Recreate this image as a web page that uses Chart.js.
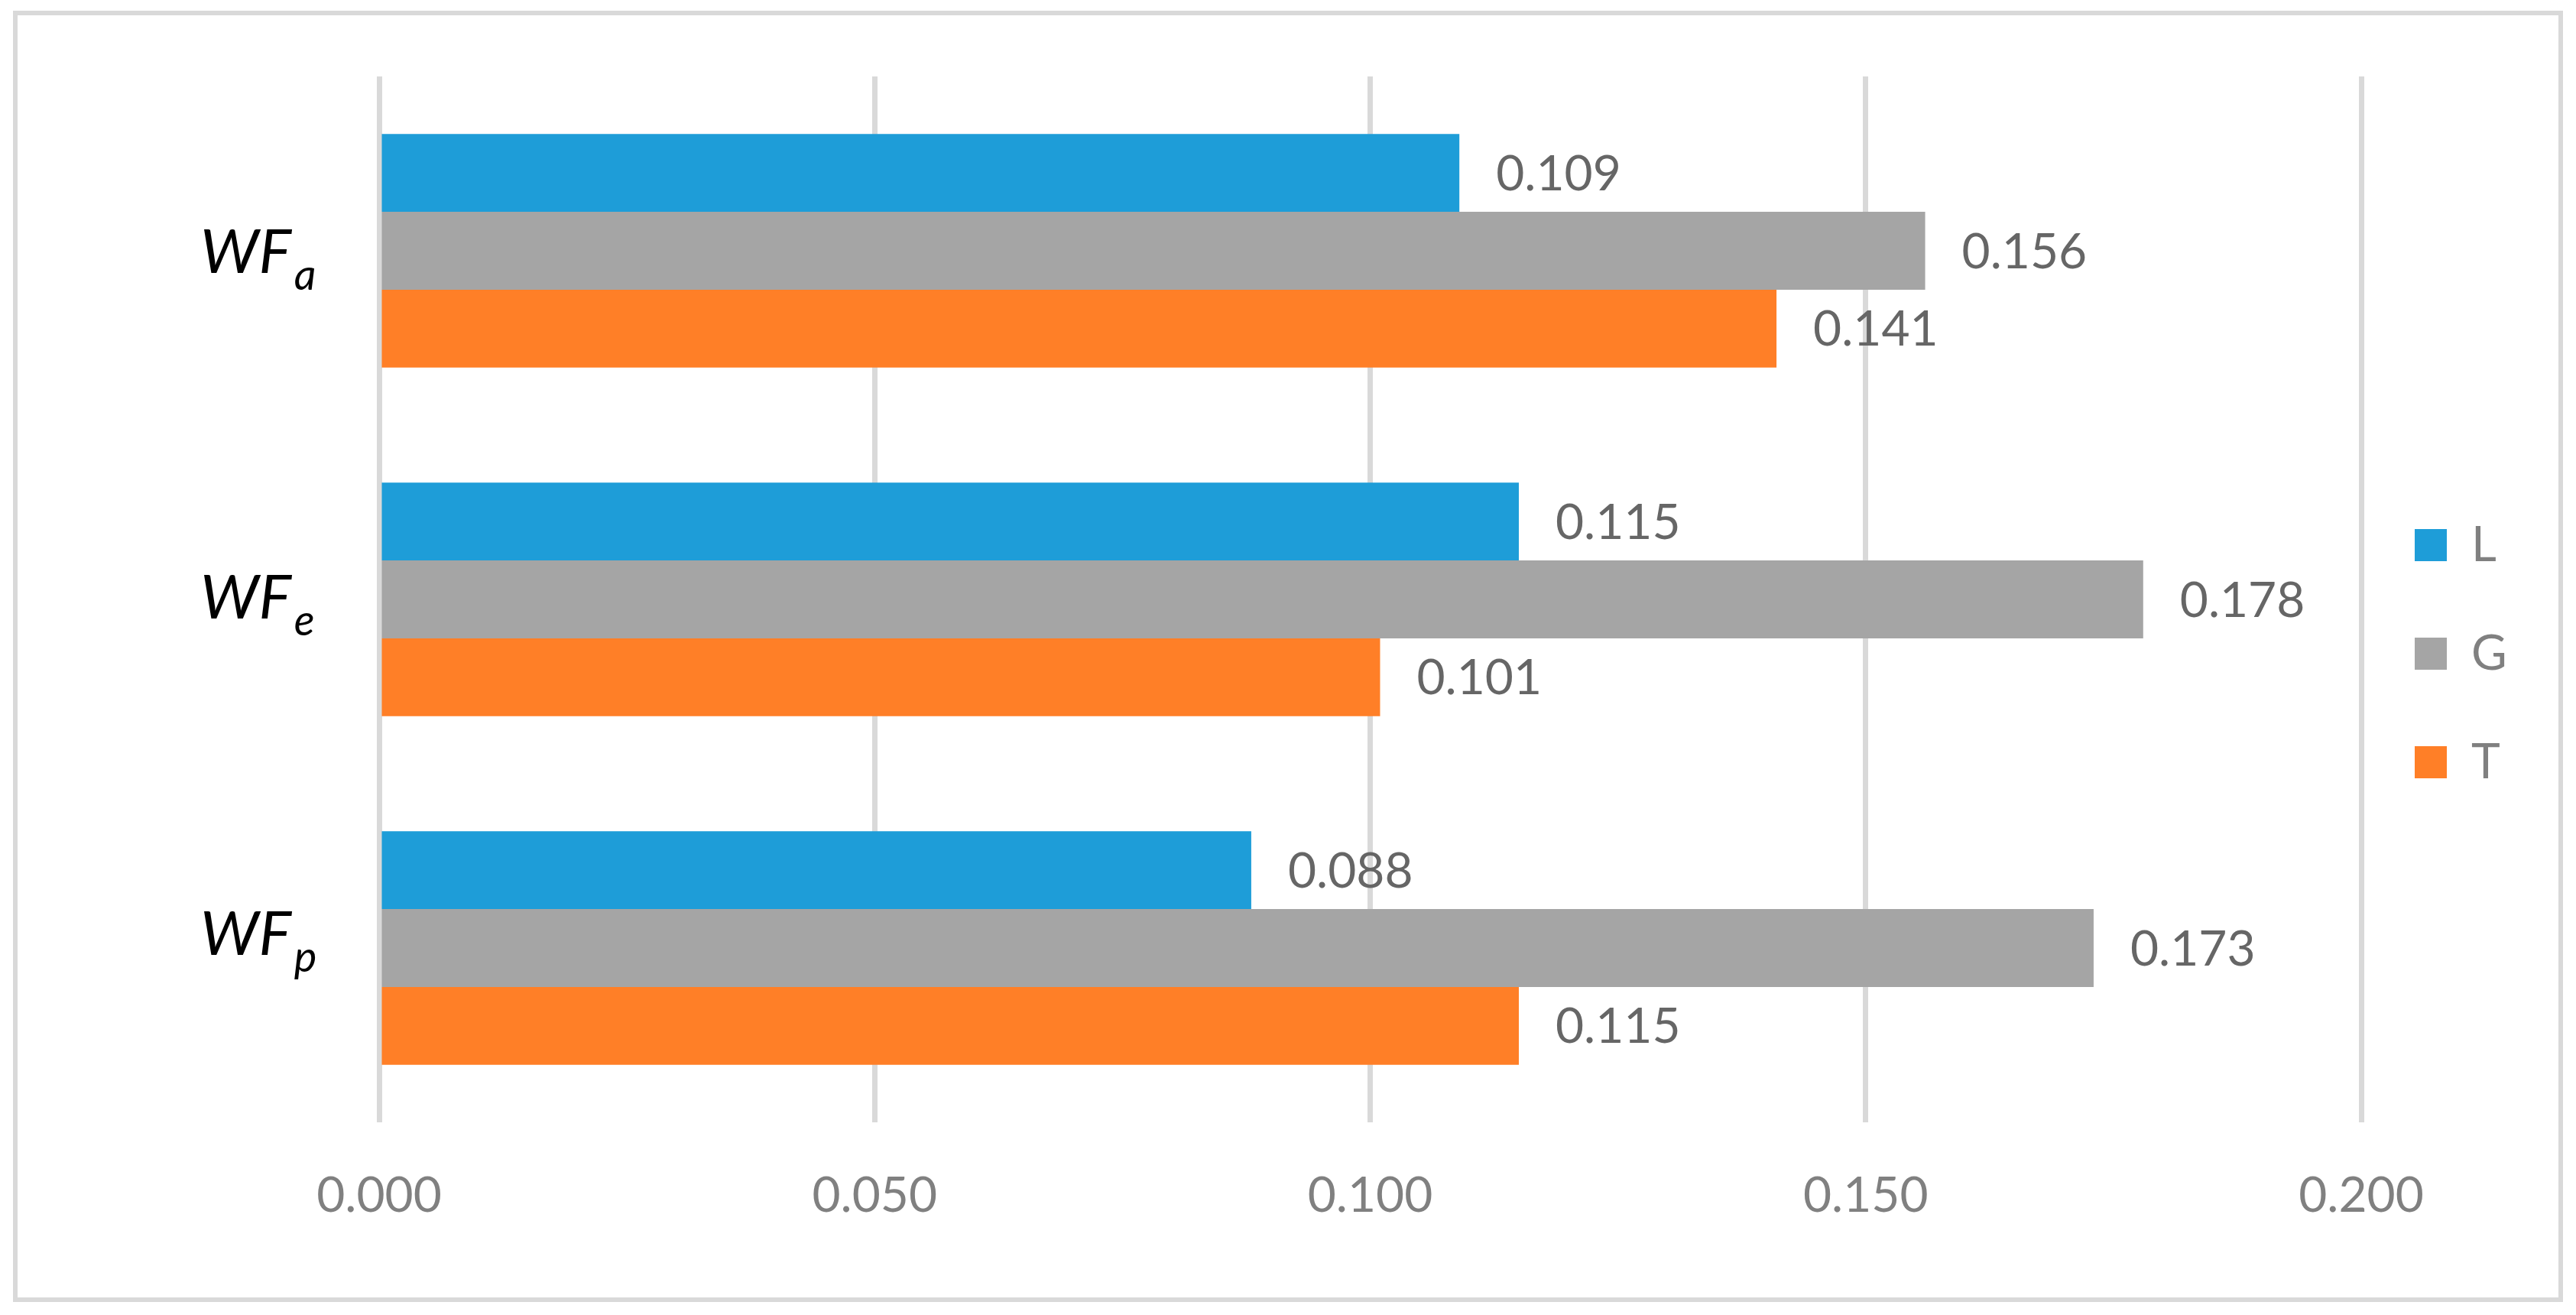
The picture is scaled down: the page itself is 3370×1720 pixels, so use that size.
<!DOCTYPE html>
<html>
<head>
<meta charset="utf-8">
<script src="https://cdn.jsdelivr.net/npm/chart.js@4.4.1/dist/chart.umd.min.js"></script>
<style>
html,body{margin:0;padding:0;background:#ffffff;}
#wrap{position:absolute;left:0;top:0;width:3370px;height:1720px;}
#frame{position:absolute;left:17px;top:14px;width:3336px;height:1689px;box-sizing:border-box;border:6px solid #d9d9d9;pointer-events:none;}
</style>
</head>
<body>
<div id="wrap"><canvas id="c" width="3370" height="1720"></canvas></div>
<div id="frame"></div>
<script>
// ---- data ----
const categories = ['WF', 'WF', 'WF'];
const subscripts = ['a', 'e', 'p'];
const seriesNames = ['L', 'G', 'T'];
const valuesL = [0.109, 0.115, 0.088];
const valuesG = [0.156, 0.178, 0.173];
const valuesT = [0.141, 0.101, 0.115];
const xTicks = [0.000, 0.050, 0.100, 0.150, 0.200];

// ---- style ----
const seriesColors = ['#1E9DD8', '#A5A5A5', '#FF7F27'];
const baselineShift = [29, 25, 9];

const catLabelPlugin = {
  id: 'catLabels',
  afterDraw(chart) {
    const ctx = chart.ctx, ys = chart.scales.y;
    ctx.save();
    ctx.fillStyle = '#000000';
    ctx.textBaseline = 'alphabetic';
    ctx.textAlign = 'left';
    categories.forEach((c, i) => {
      const base = ys.getPixelForValue(i) + baselineShift[i];
      ctx.font = 'italic 80px Lato';
      const w = ctx.measureText(c).width;
      const x0 = 262;
      ctx.fillText(c, x0, base);
      ctx.font = 'italic 56px Lato';
      ctx.fillText(subscripts[i], x0 + w + 4, base + 22);
    });
    ctx.restore();
  }
};

const valueLabelPlugin = {
  id: 'valueLabels',
  afterDatasetsDraw(chart) {
    const ctx = chart.ctx;
    ctx.save();
    ctx.font = '64px Lato';
    ctx.fillStyle = '#666666';
    ctx.textAlign = 'left';
    ctx.textBaseline = 'middle';
    chart.data.datasets.forEach((ds, di) => {
      const meta = chart.getDatasetMeta(di);
      meta.data.forEach((bar, j) => {
        ctx.fillText(Number(ds.data[j]).toFixed(3), bar.x + 48, bar.y + 2);
      });
    });
    ctx.restore();
  }
};

const legendShift = {
  id: 'legendShift',
  afterLayout(chart) {
    if (chart.legend) { chart.legend.left -= 8; chart.legend.right -= 8; }
  }
};

function build() {
  new Chart(document.getElementById('c'), {
    type: 'bar',
    data: {
      labels: categories.map((c, i) => c + '_' + subscripts[i]),
      datasets: [
        { label: seriesNames[0], data: valuesL, backgroundColor: seriesColors[0] },
        { label: seriesNames[1], data: valuesG, backgroundColor: seriesColors[1] },
        { label: seriesNames[2], data: valuesT, backgroundColor: seriesColors[2] }
      ]
    },
    options: {
      indexAxis: 'y',
      responsive: false,
      animation: false,
      devicePixelRatio: 1,
      datasets: { bar: { categoryPercentage: 0.67, barPercentage: 1.0, borderWidth: 0 } },
      layout: { padding: { top: 100, bottom: 110, left: 0, right: 81 } },
      scales: {
        x: {
          type: 'linear', min: 0, max: 0.2,
          afterBuildTicks: s => { s.ticks = xTicks.map(v => ({ value: v })); },
          afterFit: s => { s.height = 142; },
          grid: { color: '#d9d9d9', lineWidth: 7, drawTicks: false },
          border: { display: false },
          ticks: {
            color: '#808080', font: { family: 'Lato', size: 64 }, padding: 58,
            callback: v => Number(v).toFixed(3), maxRotation: 0, autoSkip: false
          }
        },
        y: {
          type: 'category',
          afterFit: s => { s.width = 496; },
          grid: { display: false },
          border: { display: false },
          ticks: { display: false }
        }
      },
      plugins: {
        legend: {
          position: 'right',
          maxWidth: 200,
          labels: {
            color: '#808080', font: { family: 'Lato', size: 64 },
            boxWidth: 42, boxHeight: 42, padding: 78
          }
        },
        tooltip: { enabled: false },
        title: { display: false }
      }
    },
    plugins: [catLabelPlugin, valueLabelPlugin, legendShift]
  });
}

Promise.all([
  document.fonts.load('64px Lato'),
  document.fonts.load('italic 80px Lato')
]).then(build, build);
</script>
</body>
</html>
